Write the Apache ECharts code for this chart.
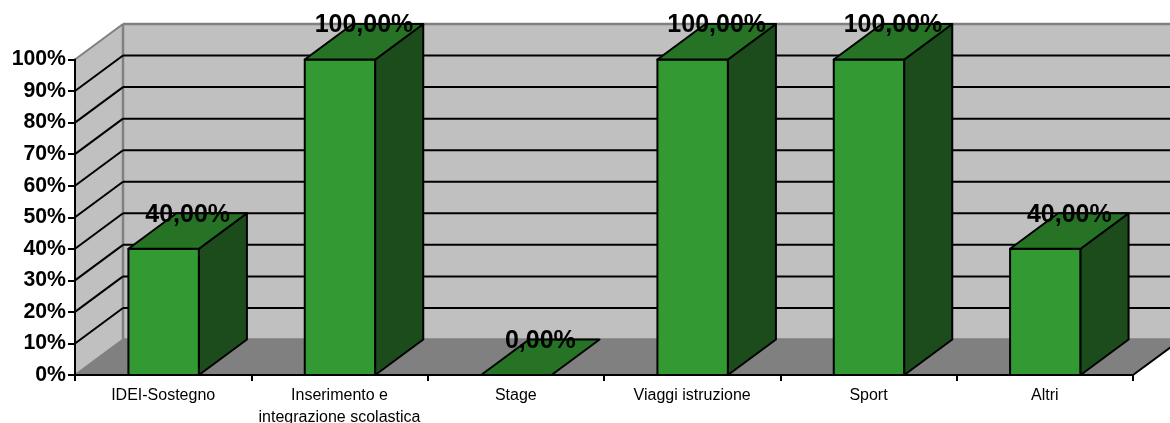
<!DOCTYPE html>
<html>
<head>
<meta charset="utf-8">
<style>html,body{margin:0;padding:0;background:#fff}#c{width:1170px;height:423px}</style>
<script src="https://cdn.jsdelivr.net/npm/echarts@6/dist/echarts.min.js"></script>
</head>
<body>
<div id="c"></div>
<script>
const categories = ['IDEI-Sostegno', 'Inserimento e\nintegrazione scolastica', 'Stage', 'Viaggi istruzione', 'Sport', 'Altri'];
const values = [40, 100, 0, 100, 100, 40];
const valueLabels = ['40,00%', '100,00%', '0,00%', '100,00%', '100,00%', '40,00%'];
const yTicks = [0, 10, 20, 30, 40, 50, 60, 70, 80, 90, 100];

const DX = 48, DY = -35.5, BAR = 70.5;
const FONT = '"Liberation Sans", Arial, sans-serif';
const chart = echarts.init(document.getElementById('c'), null, {renderer: 'canvas'});

function poly(points, fill, stroke, lw) {
  return {type: 'polygon', shape: {points}, style: {fill, stroke: stroke || null, lineWidth: lw || 0, lineJoin: 'round'}};
}
function line(a, b, stroke, lw) {
  return {type: 'line', shape: {x1: a[0], y1: a[1], x2: b[0], y2: b[1]}, style: {stroke, lineWidth: lw}};
}

chart.setOption({
  animation: false,
  backgroundColor: '#ffffff',
  grid: {left: 75, right: 37, top: 59.5, bottom: 48, outerBoundsMode: 'none', containLabel: false},
  xAxis: {
    type: 'category', data: categories,
    axisLine: {show: true, lineStyle: {color: '#000', width: 2}},
    axisTick: {show: true, length: 6, alignWithLabel: false, lineStyle: {color: '#000', width: 2}},
    axisLabel: {interval: 0, color: '#000', fontFamily: FONT, fontSize: 16, lineHeight: 22, margin: 10, overflow: 'none', hideOverlap: false},
    z: 2
  },
  yAxis: {
    type: 'value', min: 0, max: 100, interval: 10,
    axisLine: {show: true, lineStyle: {color: '#000', width: 2}},
    axisTick: {show: true, length: 7, lineStyle: {color: '#000', width: 2}},
    axisLabel: {color: '#000', fontFamily: FONT, fontWeight: 'bold', fontSize: 21.25, margin: 9, padding: [2, 0, 0, 0], formatter: '{value}%'},
    splitLine: {show: false},
    z: 2
  },
  series: [
    {
      type: 'custom', coordinateSystem: 'cartesian2d', z: 1, silent: true,
      data: [[0, 0]],
      renderItem(params, api) {
        const o = api.coord([0, 0]), t = api.coord([0, 100]);
        const cs = params.coordSys;
        const x0 = cs.x, x1 = cs.x + cs.width, yb = o[1], yt = t[1];
        return {type: 'group', children: [
          poly([[x0 + DX, yt + DY], [x1 + DX, yt + DY], [x1 + DX, yb + DY], [x0 + DX, yb + DY]], '#C0C0C0'),
          poly([[x0, yt], [x0 + DX, yt + DY], [x0 + DX, yb + DY], [x0, yb]], '#C0C0C0'),
          poly([[x0, yb], [x0 + DX, yb + DY], [x1 + DX, yb + DY], [x1, yb]], '#808080'),
          line([x0, yt], [x0 + DX, yt + DY], '#808080', 2),
          line([x0 + DX, yt + DY], [x1 + DX, yt + DY], '#808080', 2.5),
          line([x0 + DX, yt + DY], [x0 + DX, yb + DY], '#808080', 2.5),
          line([x0 + DX, yb + DY], [x1 + DX, yb + DY], '#808080', 2.5),
          line([x0, yb], [x0 + DX, yb + DY], '#808080', 2),
          line([x1, yb], [x1 + DX, yb + DY], '#000', 2)
        ]};
      }
    },
    {
      type: 'custom', coordinateSystem: 'cartesian2d', z: 1, silent: true,
      data: yTicks.filter(v => v > 0 && v < 100).map(v => [0, v]),
      renderItem(params, api) {
        const p = api.coord([0, api.value(1)]);
        const cs = params.coordSys, x0 = cs.x, x1 = cs.x + cs.width;
        return {type: 'group', children: [
          line([x0, p[1]], [x0 + DX, p[1] + DY], '#000', 2),
          line([x0 + DX, p[1] + DY], [x1 + DX, p[1] + DY], '#000', 2)
        ]};
      }
    },
    {
      type: 'custom', coordinateSystem: 'cartesian2d', z: 5, silent: true,
      data: values.map((v, i) => [i, v, valueLabels[i]]),
      encode: {x: 0, y: 1},
      renderItem(params, api) {
        const i = api.value(0), v = api.value(1);
        const b = api.coord([i, 0]), t = api.coord([i, v]);
        const l = b[0] - BAR / 2 + 0.5, r = l + BAR, yb = b[1], yt = t[1];
        const children = [];
        if (v > 0) {
          children.push(poly([[l, yb], [r, yb], [r, yt], [l, yt]], '#339933', '#000', 2));
          children.push(poly([[r, yb], [r + DX, yb + DY], [r + DX, yt + DY], [r, yt]], '#1C4C1C', '#000', 2));
        }
        children.push(poly([[l, yt], [r, yt], [r + DX, yt + DY], [l + DX, yt + DY]], '#267326', '#000', 2));
        children.push({type: 'text', style: {
          text: valueLabels[i], x: (l + r) / 2 + DX / 2, y: yt + DY + 1.5, align: 'center', verticalAlign: 'middle',
          font: 'bold 25px ' + FONT, fill: '#000'
        }});
        return {type: 'group', children};
      }
    }
  ]
});
</script>
</body>
</html>
